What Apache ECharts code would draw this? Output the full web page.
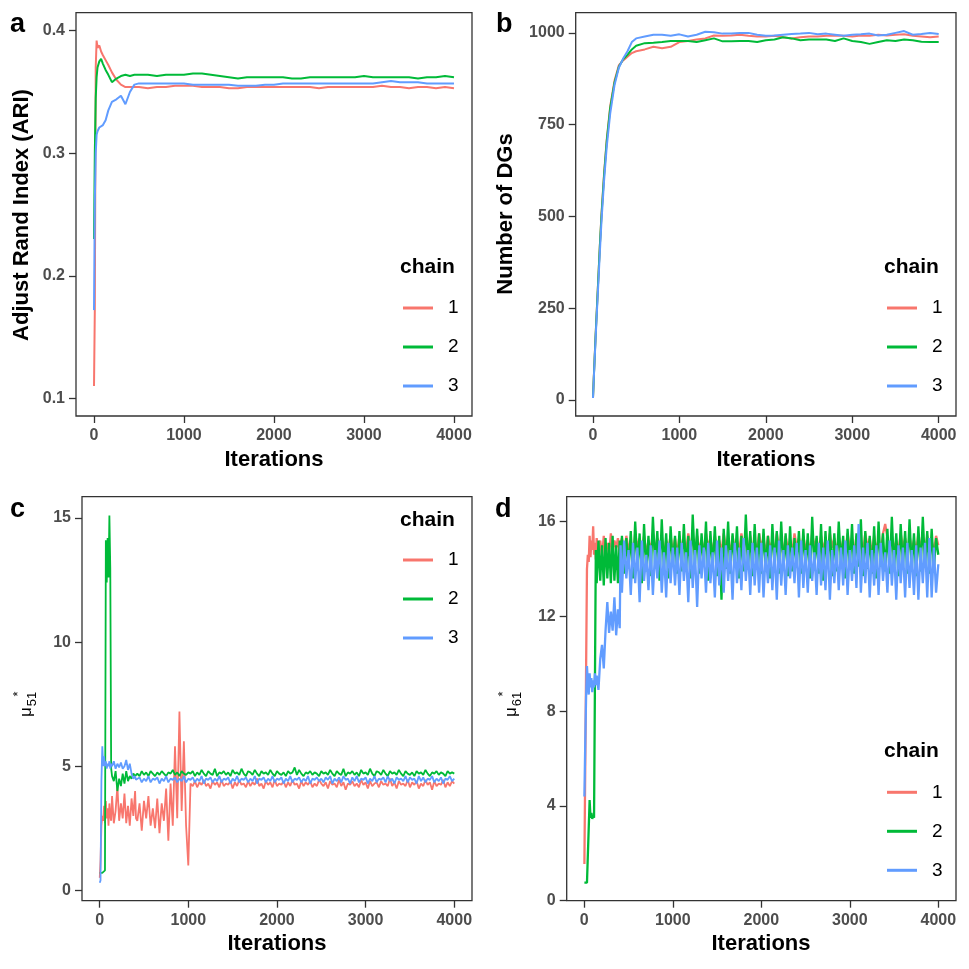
<!DOCTYPE html>
<html><head><meta charset="utf-8">
<script src="https://cdn.jsdelivr.net/npm/echarts@6/dist/echarts.min.js"></script>
<style>html,body{margin:0;padding:0;background:#fff}#c{width:969px;height:969px}</style>
</head><body><div id="c"></div>
<script>
// ---------- data ----------
const itersAB = [1,10,20,30,40,60,80,100,130,160,200,250,300,350,400,450,500,600,700,800,900,1000,1100,1200,1300,1400,1500,1600,1700,1800,1900,2000,2100,2200,2300,2400,2500,2600,2700,2800,2900,3000,3100,3200,3300,3400,3500,3600,3700,3800,3900,4000];
const ariChain1 = [0.110,0.172,0.370,0.392,0.386,0.388,0.383,0.380,0.376,0.372,0.366,0.360,0.356,0.354,0.354,0.354,
  0.354,0.353,0.354,0.354,0.355,0.355, 0.355,0.354,0.354,0.354,0.353,0.353, 0.354,0.354,0.354,0.354,0.354,0.354,
  0.354,0.354,0.353,0.354,0.354,0.354, 0.354,0.354,0.354,0.355,0.354,0.354, 0.353,0.354,0.354,0.353,0.354,0.353];
const ariChain2 = [0.230,0.300,0.345,0.362,0.370,0.375,0.377,0.373,0.368,0.364,0.358,0.361,0.363,0.364,0.363,0.364,
  0.364,0.364,0.363,0.364,0.364,0.364, 0.365,0.365,0.364,0.363,0.362,0.361, 0.362,0.362,0.362,0.362,0.362,0.361,
  0.361,0.362,0.362,0.362,0.362,0.362, 0.362,0.363,0.362,0.362,0.362,0.362, 0.362,0.361,0.362,0.362,0.363,0.362];
const ariChain3 = [0.172,0.260,0.300,0.315,0.318,0.321,0.322,0.323,0.327,0.335,0.342,0.344,0.347,0.340,0.350,0.356,
  0.357,0.357,0.357,0.357,0.357,0.357, 0.356,0.356,0.356,0.356,0.356,0.355, 0.355,0.355,0.356,0.356,0.357,0.357,
  0.357,0.357,0.357,0.357,0.357,0.357, 0.357,0.357,0.357,0.358,0.359,0.358, 0.358,0.358,0.357,0.357,0.357,0.357];

const dgChain1 = [5,60,115,170,220,320,420,510,620,710,800,870,912,925,935,945,
  950,955,962,958,962,975, 978,982,985,993,992,993, 995,992,990,990,992,988,
  985,988,990,990,992,993, 992,990,993,992,995,993, 995,996,992,990,988,990];
const dgChain2 = [5,58,112,168,218,318,418,505,615,705,795,865,908,928,940,955,
  965,972,973,975,978,978, 978,975,980,985,977,977, 978,978,975,980,982,988,
  985,980,982,982,982,978, 985,978,975,970,975,980, 978,982,980,976,975,975];
const dgChain3 = [5,55,108,160,210,305,400,490,600,690,780,858,905,930,950,975,
  985,990,995,995,992,996, 990,995,1003,1002,998,998, 1000,1000,995,992,993,995,
  997,998,1000,996,998,995, 992,995,996,998,993,995, 1000,1005,995,997,1000,997];

const itersCD = [1,10,20,30,40,50,60,70,80,90,100,110,120,130,140,160,180,200,220,240,260,280,300,320,340,360,380,400,410,
  425,450,475,500,525,550,575,600,625,650,675,700,725,750,775,800,825,850,875,900,925,950,975,1000,
  1025,1050,1075,1100,1125,1150,1175,1200,1225,1250,1275,1300,1325,1350,1375,1400,1425,1450,1475,1500,
  1525,1550,1575,1600,1625,1650,1675,1700,1725,1750,1775,1800,1825,1850,1875,1900,1925,1950,1975,2000,
  2025,2050,2075,2100,2125,2150,2175,2200,2225,2250,2275,2300,2325,2350,2375,2400,2425,2450,2475,2500,
  2525,2550,2575,2600,2625,2650,2675,2700,2725,2750,2775,2800,2825,2850,2875,2900,2925,2950,2975,3000,
  3025,3050,3075,3100,3125,3150,3175,3200,3225,3250,3275,3300,3325,3350,3375,3400,3425,3450,3475,3500,
  3525,3550,3575,3600,3625,3650,3675,3700,3725,3750,3775,3800,3825,3850,3875,3900,3925,3950,3975,4000];

const mu51Chain1 = [0.5,1.2,2.6,3.0,2.8,3.4,2.7,3.6,2.9,3.3,2.6,3.5,3.0,2.8,3.8,2.7,3.2,4.2,2.8,3.5,2.9,3.9,2.7,3.4,2.6,3.7,3.0,4.0,2.9,
  2.8,3.5,2.4,3.6,2.9,3.8,2.6,3.3,2.5,3.7,2.3,3.5,2.8,4.1,2.0,4.3,2.6,5.8,2.9,7.2,3.2,6.0,2.6,1.0,
  4.3,4.2,4.4,4.15,4.35,4.25,4.45,4.2,4.3,4.1,4.4,4.25,
  4.35,4.15,4.45,4.2,4.3,4.25,4.4,4.1,4.35,4.2,4.45,4.25,
  4.3,4.15,4.4,4.2,4.35,4.25,4.5,4.2,4.3,4.1,4.4,4.25,
  4.35,4.15,4.45,4.2,4.3,4.25,4.4,4.15,4.35,4.2,4.45,4.25,
  4.3,4.1,4.4,4.2,4.35,4.25,4.4,4.15,4.3,4.2,4.45,4.3,
  4.2,4.35,4.1,4.4,4.25,4.3,4.15,4.45,4.2,4.35,4.05,4.3,
  4.25,4.4,4.2,4.3,4.15,4.45,4.25,4.35,4.1,4.4,4.2,4.3,
  4.35,4.15,4.4,4.25,4.3,4.2,4.5,4.2,4.35,4.1,4.4,4.25,
  4.3,4.2,4.45,4.15,4.35,4.25,4.4,4.1,4.3,4.2,4.45,4.25,
  4.35,4.05,4.4,4.2,4.3,4.25,4.45,4.15,4.35,4.2,4.4,4.3];
const mu51Chain2 = [0.7,0.7,0.7,0.7,0.7,0.72,0.8,14.1,12.4,14.2,12.6,15.1,13.0,4.9,4.6,4.4,4.8,4.0,4.5,4.2,4.7,4.3,4.8,4.4,4.6,4.5,4.7,4.6,4.65,
  4.7,4.6,4.8,4.65,4.75,4.6,4.8,4.7,4.6,4.75,4.65,4.8,4.7,4.6,4.75,4.7,4.85,4.65,4.75,4.6,4.8,4.7,4.65,4.75,
  4.7,4.8,4.6,4.75,4.65,4.85,4.7,4.6,4.8,4.7,4.65,4.9,
  4.6,4.75,4.7,4.8,4.65,4.75,4.6,4.85,4.7,4.75,4.65,4.9,
  4.7,4.6,4.8,4.75,4.65,4.85,4.7,4.6,4.8,4.7,4.75,4.65,
  4.85,4.7,4.6,4.8,4.7,4.65,4.75,4.6,4.8,4.7,4.75,4.95,
  4.65,4.85,4.7,4.6,4.75,4.7,4.8,4.65,4.75,4.7,4.6,4.8,
  4.7,4.75,4.65,4.85,4.7,4.6,4.8,4.7,4.65,4.9,4.6,4.75,
  4.7,4.8,4.65,4.75,4.6,4.85,4.7,4.75,4.65,4.9,4.7,4.6,
  4.8,4.75,4.65,4.85,4.7,4.6,4.8,4.7,4.75,4.65,4.85,4.7,
  4.6,4.8,4.7,4.65,4.75,4.6,4.8,4.7,4.75,4.65,4.85,4.7,
  4.6,4.75,4.7,4.8,4.65,4.75,4.7,4.6,4.8,4.7,4.75,4.7];
const mu51Chain3 = [0.3,0.4,4.4,5.8,5.0,5.4,5.0,5.2,4.9,5.1,5.0,5.2,4.9,5.1,5.0,5.2,4.9,5.1,4.95,5.15,4.9,5.0,5.25,4.85,5.1,4.7,4.5,4.6,4.45,
  4.4,4.55,4.35,4.5,4.4,4.6,4.35,4.5,4.45,4.55,4.3,4.5,4.4,4.6,4.35,4.5,4.45,4.55,4.35,4.5,4.4,4.6,4.35,4.5,
  4.45,4.55,4.35,4.5,4.4,4.6,4.3,4.5,4.45,4.55,4.35,4.5,
  4.4,4.6,4.35,4.5,4.45,4.55,4.3,4.5,4.4,4.6,4.35,4.5,
  4.45,4.55,4.35,4.5,4.4,4.6,4.3,4.5,4.45,4.55,4.35,4.5,
  4.4,4.6,4.35,4.5,4.45,4.55,4.3,4.5,4.4,4.6,4.35,4.5,
  4.45,4.55,4.35,4.5,4.4,4.6,4.3,4.5,4.45,4.55,4.4,4.5,
  4.35,4.55,4.45,4.6,4.3,4.5,4.4,4.55,4.35,4.6,4.45,4.5,
  4.3,4.55,4.4,4.6,4.35,4.5,4.45,4.55,4.3,4.5,4.4,4.6,
  4.35,4.5,4.45,4.55,4.35,4.6,4.4,4.5,4.3,4.55,4.45,4.5,
  4.4,4.6,4.35,4.55,4.45,4.5,4.3,4.6,4.4,4.55,4.35,4.5,
  4.45,4.6,4.35,4.5,4.4,4.55,4.3,4.5,4.45,4.6,4.4,4.5];

const mu61Chain1 = [1.55,1.55,1.55,14.0,14.6,14.3,15.4,14.5,15.2,14.8,15.8,14.6,15.1,14.4,15.3,14.7,15.2,14.5,15.4,14.8,15.1,14.6,15.5,14.7,15.2,14.9,15.3,14.6,15.1,
  15.3,14.6,15.4,14.8,15.2,14.5,15.5,14.9,15.3,14.7,15.4,14.6,15.2,14.8,15.5,14.7,15.3,14.9,15.4,14.6,15.2,14.8,15.4,14.7,
  15.3,14.6,15.4,14.8,15.2,14.7,15.5,14.9,15.3,14.6,15.4,14.8,
  15.2,14.7,15.5,14.9,15.3,14.6,15.4,14.8,15.2,14.7,15.5,14.9,
  15.3,14.6,15.4,14.8,15.2,14.7,15.5,14.9,15.3,14.6,15.4,14.8,
  15.2,14.7,15.5,14.9,15.3,14.6,15.4,14.8,15.2,14.7,15.5,14.9,
  15.3,14.6,15.4,14.8,15.2,14.7,15.5,14.9,15.3,14.6,15.4,14.8,
  15.2,14.7,15.5,14.9,15.3,14.6,15.4,14.8,15.2,14.7,15.5,14.9,
  15.3,14.6,15.4,14.8,15.2,14.7,15.5,14.9,15.3,14.6,15.4,14.8,
  15.2,14.7,15.5,14.9,15.3,14.6,15.4,14.8,15.2,14.7,15.5,15.9,
  15.3,14.6,15.4,14.8,15.2,14.7,15.5,14.9,15.3,14.6,15.4,14.8,
  15.2,14.7,15.5,14.9,15.3,14.6,15.4,14.8,15.2,14.7,15.4,15.0];
const mu61Chain2 = [0.76,0.76,0.76,0.76,0.76,0.76,4.25,3.5,3.7,3.45,3.6,3.5,3.55,14.8,13.4,15.2,13.5,15.0,13.3,15.3,13.6,15.1,13.4,15.4,13.5,15.0,13.4,15.2,13.6,
  15.4,13.8,15.3,14.0,15.6,13.6,16.0,14.1,15.5,13.4,15.9,13.9,15.4,13.7,16.2,14.2,15.6,13.5,16.1,14.0,15.5,13.6,15.8,14.1,
  15.4,13.8,15.6,13.9,15.9,14.0,15.4,13.6,16.3,14.2,15.7,13.8,
  15.5,14.1,16.0,13.5,15.6,14.0,15.8,13.7,15.4,12.7,15.7,14.0,
  16.0,13.8,15.5,14.2,15.8,13.6,15.4,13.9,16.3,14.1,15.6,13.7,
  15.9,14.0,15.5,13.8,15.7,14.0,15.4,13.6,15.9,14.1,15.6,13.8,
  16.0,14.0,15.5,13.7,15.8,13.9,15.3,14.1,15.6,13.8,15.7,14.0,
  15.5,13.6,16.2,14.1,15.4,13.8,15.9,13.5,15.6,14.0,15.8,13.7,
  15.5,13.9,16.0,14.2,15.4,13.6,15.7,14.0,15.9,13.8,15.5,14.1,
  16.1,13.7,15.6,14.0,15.4,13.8,15.8,13.6,16.0,14.1,15.5,13.9,
  15.7,13.8,16.2,14.0,15.5,13.7,15.9,14.1,15.6,13.8,16.1,14.0,
  15.5,13.7,15.8,13.9,16.2,14.1,15.6,13.8,15.7,14.0,15.3,14.6];
const mu61Chain3 = [4.4,6.5,8.6,9.9,9.2,8.7,9.6,9.0,9.4,8.8,9.3,9.0,9.6,9.1,9.5,8.9,10.2,10.8,9.8,11.4,12.6,11.3,12.2,11.4,12.8,11.2,12.3,11.5,15.0,
  13.0,15.2,13.6,14.8,12.9,15.1,13.4,14.9,12.6,15.2,13.5,14.6,13.1,15.0,12.9,14.8,13.6,15.2,13.0,14.7,12.8,15.1,13.4,14.9,
  13.3,14.9,12.9,15.1,13.5,14.7,12.6,15.2,13.2,14.8,12.4,15.0,
  13.6,14.9,13.0,15.1,13.4,14.7,12.8,15.2,13.3,14.9,13.0,15.0,
  13.5,14.8,12.7,15.1,13.4,14.9,13.1,15.3,13.5,14.8,12.9,15.1,
  13.3,14.9,13.0,15.1,12.8,14.7,13.4,15.0,13.1,14.9,12.7,15.2,
  13.3,14.8,12.9,15.0,13.6,14.9,13.4,15.1,12.8,15.2,13.2,14.8,
  13.0,15.0,13.5,14.7,12.9,15.1,13.3,14.9,13.1,15.2,12.7,14.8,
  13.4,15.0,13.1,14.9,13.3,15.2,12.9,14.8,13.5,15.0,13.2,15.9,
  13.0,14.9,13.4,15.1,12.8,14.8,13.3,15.0,12.9,15.1,13.5,14.7,
  13.0,15.2,13.3,14.8,12.7,15.0,13.4,14.9,12.8,15.1,13.2,14.8,
  12.9,15.0,12.7,14.9,13.4,15.1,12.8,15.3,12.8,14.9,13.0,14.2];

const xTicks = [0,1000,2000,3000,4000];
const yTicksA = [0.1,0.2,0.3,0.4];
const yTicksB = [0,250,500,750,1000];
const yTicksC = [0,5,10,15];
const yTicksD = [0,4,8,12,16];
const chainNames = ['1','2','3'];
const chainColors = ['#F8766D','#00BA38','#619CFF'];

// ---------- chart ----------
const FF = '"Liberation Sans", Arial, Helvetica, sans-serif';
const chart = echarts.init(document.getElementById('c'), null, {renderer:'canvas'});

const grids = [
  {left:76, top:12.7, width:396, height:403.3},
  {left:575.7, top:12.7, width:380.3, height:403.3},
  {left:82, top:496.7, width:390, height:404},
  {left:566.7, top:496.7, width:389.3, height:404}
].map(g => Object.assign({show:true, borderColor:'#333333', borderWidth:1.3, backgroundColor:'#ffffff', containLabel:false}, g));

function xAx(i){
  return {gridIndex:i, type:'value', min:-199, max:4200,
    axisLine:{show:false, onZero:false}, splitLine:{show:false},
    axisTick:{show:true, inside:false, customValues:xTicks, length:7, lineStyle:{color:'#333333', width:1.3}},
    axisLabel:{customValues:xTicks, margin:12, color:'#4D4D4D', fontSize:16, fontWeight:'bold', fontFamily:FF,
      formatter: v => String(v)}};
}
function yAx(i, min, max, ticks, fmt){
  return {gridIndex:i, type:'value', min:min, max:max,
    axisLine:{show:false, onZero:false}, splitLine:{show:false},
    axisTick:{show:true, inside:false, customValues:ticks, length:7, lineStyle:{color:'#333333', width:1.3}},
    axisLabel:{customValues:ticks, margin:11, color:'#4D4D4D', fontSize:16, fontWeight:'bold', fontFamily:FF,
      formatter: fmt || (v => String(v))}};
}

function pairs(xs, ys){ return xs.map((x,i)=>[x, ys[i]]); }

const panelData = [
  {xs:itersAB, ys:[ariChain1, ariChain2, ariChain3], w:2},
  {xs:itersAB, ys:[dgChain1, dgChain2, dgChain3], w:2},
  {xs:itersCD, ys:[mu51Chain1, mu51Chain2, mu51Chain3], w:1.8},
  {xs:itersCD, ys:[mu61Chain1, mu61Chain2, mu61Chain3], w:2.3}
];
const series = [];
panelData.forEach((p, gi) => {
  p.ys.forEach((ys, k) => {
    series.push({type:'line', name:chainNames[k], xAxisIndex:gi, yAxisIndex:gi,
      data:pairs(p.xs, ys), showSymbol:false, symbol:'none', z:2+k,
      color:chainColors[k], itemStyle:{color:chainColors[k]},
      lineStyle:{color:chainColors[k], width:p.w, join:'bevel'}, emphasis:{disabled:true}, silent:true});
  });
});

function legend(left, top){
  return {left:left, top:top, orient:'vertical', padding:0, itemGap:20, itemWidth:30, itemHeight:3,
    icon:'rect', data:chainNames, selectedMode:false,
    textStyle:{fontSize:19, lineHeight:19, color:'#000', fontFamily:FF, padding:[0,0,0,10]}};
}

function txt(x, y, text, size, weight, opts){
  return Object.assign({type:'text', x:x, y:y, silent:true,
    style:{text:text, fontSize:size, fontWeight:weight, fontFamily:FF, fill:'#000', align:'left', verticalAlign:'middle'}}, opts || {});
}
function center(x, y, text, size, weight, rot){
  const t = txt(x, y, text, size, weight);
  t.style.align = 'center';
  if (rot) t.rotation = rot;
  return t;
}
function muLabel(ox, oy, sub){
  return {type:'group', x:ox, y:oy, rotation:Math.PI/2, silent:true, children:[
    {type:'text', x:-3, y:2.7, style:{text:'\u03bc', fontSize:17, fontFamily:FF, fill:'#000', align:'center', verticalAlign:'middle'}},
    {type:'text', x:10, y:8.5, style:{text:sub, fontSize:13, fontFamily:FF, fill:'#000', align:'center', verticalAlign:'middle'}},
    {type:'text', x:15, y:-5.1, style:{text:'*', fontSize:13, fontFamily:FF, fill:'#000', align:'center', verticalAlign:'middle'}}
  ]};
}

const graphics = [
  txt(10, 24.5, 'a', 27, 'bold'),
  txt(496, 24.5, 'b', 27, 'bold'),
  txt(10, 509.5, 'c', 27, 'bold'),
  txt(495, 509.5, 'd', 27, 'bold'),
  center(274, 459.6, 'Iterations', 22, 'bold'),
  center(766, 459.6, 'Iterations', 22, 'bold'),
  center(277, 944, 'Iterations', 22, 'bold'),
  center(761, 944, 'Iterations', 22, 'bold'),
  center(22.3, 215, 'Adjust Rand Index (ARI)', 22, 'bold', Math.PI/2),
  center(505.6, 214, 'Number of DGs', 22, 'bold', Math.PI/2),
  muLabel(24, 709, '51'),
  muLabel(509, 709, '61'),
  txt(400, 267.5, 'chain', 21, 'bold'),
  txt(884, 267.5, 'chain', 21, 'bold'),
  txt(400, 520, 'chain', 21, 'bold'),
  txt(884, 751.7, 'chain', 21, 'bold')
];

chart.setOption({
  animation:false,
  backgroundColor:'#ffffff',
  grid:grids,
  xAxis:[xAx(0), xAx(1), xAx(2), xAx(3)],
  yAxis:[
    yAx(0, 0.0856, 0.4147, yTicksA, v => v.toFixed(1)),
    yAx(1, -44, 1055, yTicksB),
    yAx(2, -0.42, 15.86, yTicksC),
    yAx(3, 0, 17.05, yTicksD)
  ],
  legend:[legend(403, 298.5), legend(887, 298.5), legend(403, 550.5), legend(887, 782.8)],
  series:series,
  graphic:graphics
});
</script></body></html>
